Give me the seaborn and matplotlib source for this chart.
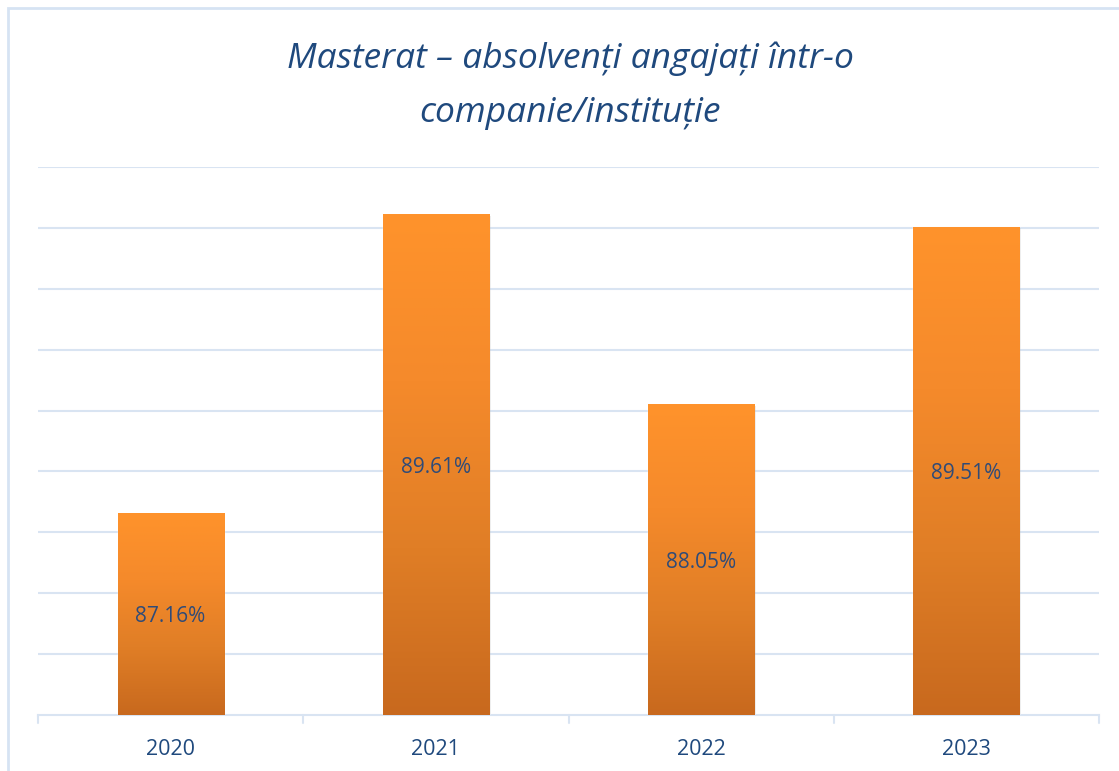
import matplotlib
matplotlib.use("Agg")
import matplotlib.pyplot as plt
import seaborn as sns
import numpy as np
import pandas as pd
from matplotlib.colors import LinearSegmentedColormap
from matplotlib.patches import Rectangle
from matplotlib.transforms import offset_copy

years = ["2020", "2021", "2022", "2023"]
values = [87.16, 89.61, 88.05, 89.51]
labels = ["87.16%", "89.61%", "88.05%", "89.51%"]
title = "Masterat – absolvenți angajați într-o\ncompanie/instituție"

sns.set_theme(style="white")
plt.rcParams['font.family'] = ['Open Sans', 'DejaVu Sans']

df = pd.DataFrame({"year": years, "value": values})

fig = plt.figure(figsize=(11.19, 7.71), dpi=100)
ax = fig.add_axes([38/1119, 1 - 715/771, (1099-38)/1119, (715-167)/771])

sns.barplot(data=df, x="year", y="value", ax=ax, width=0.4, color="#F28A2A",
            saturation=1, zorder=3)

ymin, ymax = 85.5, 90.0
ax.set_ylim(ymin, ymax)
ax.set_xlim(-0.5, len(years) - 0.5)

cmap = LinearSegmentedColormap.from_list("g", ["#C8691E", "#E07E26", "#F58A2B", "#FF932B"])
grad = np.linspace(0, 1, 256).reshape(-1, 1)
for p in ax.patches:
    x0, y0 = p.get_x(), p.get_y()
    w, h = p.get_width(), p.get_height()
    sh = Rectangle((x0 + 0.006, ymin), w, h + (y0 - ymin) - 0.01, facecolor="#000000",
                   alpha=0.08, zorder=2, edgecolor="none")
    ax.add_patch(sh)
    im = ax.imshow(grad, extent=[x0, x0 + w, ymin, y0 + h], origin="lower",
                   cmap=cmap, aspect="auto", zorder=4)
    im.set_clip_path(p)

lab_tr = offset_copy(ax.transData, fig=fig, x=0, y=-3, units="dots")
for i, (v, lab) in enumerate(zip(values, labels)):
    ax.text(i, (ymin + v) / 2, lab, ha="center", va="center", fontsize=15,
            color="#2F4B78", zorder=5, transform=lab_tr)

for g in np.arange(86.0, 90.01, 0.5):
    ax.axhline(g, color="#D9E4F2", lw=1.5, zorder=1)

ax.set_ylabel("")
ax.set_xlabel("")
ax.set_yticks([])
for s in ["top", "right", "left"]:
    ax.spines[s].set_visible(False)
ax.spines["bottom"].set_color("#D9E4F2")
ax.spines["bottom"].set_linewidth(1.5)

ax.set_xticks(range(len(years)))
ax.set_xticklabels(years, fontsize=15.5, color="#1F497D")
ax.tick_params(axis="x", length=0, pad=17)
for b in np.arange(-0.5, len(years), 1.0):
    ax.plot([b, b], [0, -0.015], transform=ax.get_xaxis_transform(),
            color="#D9E4F2", lw=1.5, clip_on=False)
ax.set_facecolor("none")

fig.text(570/1119, 1 - 86/771, title, ha="center", va="center", fontsize=25.5,
         style="italic", color="#1F497D", linespacing=1.75)

fig.patches.append(Rectangle((8/1119, -0.05), 1.2, 1 - 8/771 + 0.05,
                             transform=fig.transFigure, fill=False,
                             edgecolor="#D6E3F3", lw=2))

fig.savefig("out.png", dpi=100)
